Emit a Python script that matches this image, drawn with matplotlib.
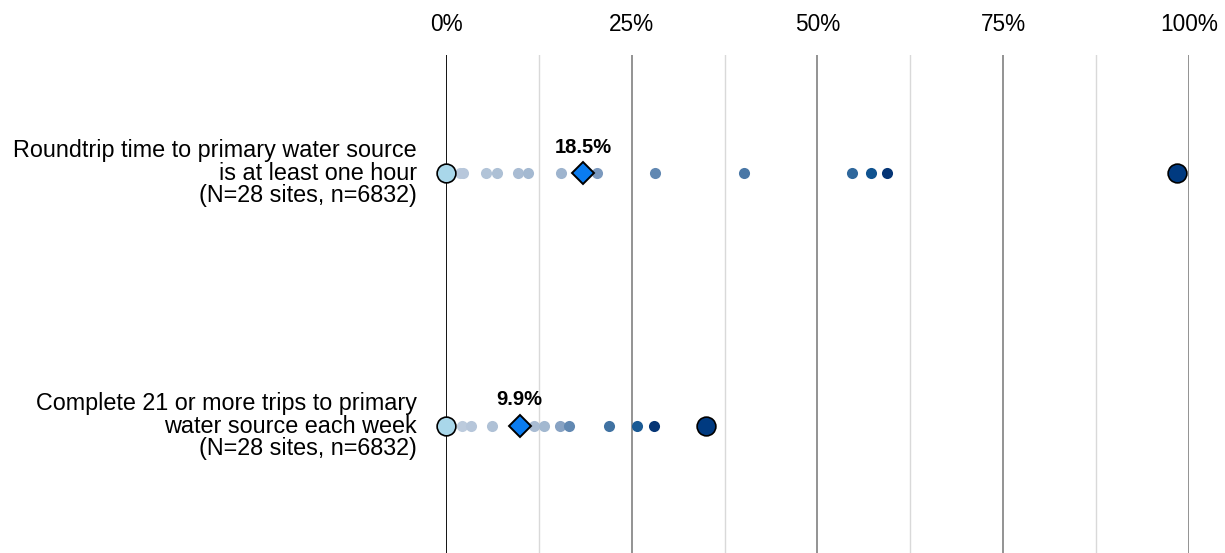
import numpy as np
import matplotlib
matplotlib.use("Agg")
import matplotlib.pyplot as plt
from matplotlib.colors import LinearSegmentedColormap

plt.rcParams['font.family'] = ['Liberation Sans', 'DejaVu Sans']

labels = ["Roundtrip time to primary water source\nis at least one hour\n(N=28 sites, n=6832)",
          "Complete 21 or more trips to primary\nwater source each week\n(N=28 sites, n=6832)"]

# site-level values (%) per indicator
sites_1 = [0, 1.9, 2.3, 5.4, 6.9, 9.7, 11.0, 15.5, 20.3, 28.1, 40.1, 54.6, 57.2, 59.4, 98.4]
sites_2 = [0, 2.2, 3.4, 6.2, 11.8, 13.2, 15.3, 16.6, 21.9, 25.7, 28.0, 35.0]
pooled = [18.5, 9.9]
site_values = [sites_1, sites_2]

xticks = [0, 25, 50, 75, 100]

cmap = LinearSegmentedColormap.from_list(
    "blues", [(0, "#bccbdd"), (0.5, "#9fb5ce"), (0.6, "#7494bb"), (0.75, "#4a78a6"),
              (0.85, "#2a649a"), (0.92, "#0f5290"), (1, "#053575")])

fig = plt.figure(figsize=(12.25, 5.53), dpi=100)
ax = fig.add_axes([446 / 1225, 0, (1189 - 446) / 1225, (553 - 55) / 553])

ax.set_xlim(0, 100)
ax.set_ylim(1.502, -0.467)

for g in [12.5, 37.5, 62.5, 87.5]:
    ax.axvline(g, color="#d9d9d9", lw=1, zorder=0)
for g in [25, 50, 75, 100]:
    ax.axvline(g, color="#808080", lw=1.2, zorder=0)
ax.axvline(0, color="black", lw=1.3, zorder=1)

for i, vals in enumerate(site_values):
    vals = sorted(vals)
    inner = vals[1:-1]
    n = len(inner)
    for r, v in enumerate(inner):
        c = cmap(r / (n - 1))
        ax.plot(v, i, "o", color=c, markersize=8, markeredgewidth=0, zorder=2, clip_on=False)
    ax.plot(vals[0], i, "o", color="#a9d7ea", markersize=13.5, markeredgecolor="black",
            markeredgewidth=1.2, zorder=4, clip_on=False)
    ax.plot(vals[-1], i, "o", color="#003a80", markersize=13.5, markeredgecolor="black",
            markeredgewidth=1.2, zorder=4, clip_on=False)
    ax.plot(pooled[i], i, "D", color="#0a7cf0", markersize=11, markeredgecolor="black",
            markeredgewidth=1.4, zorder=5, clip_on=False)
    ax.text(pooled[i], i - 0.103, f"{pooled[i]}%", ha="center", va="center",
            fontsize=14.5, fontweight="bold")
    ax.text(-3.9, i, labels[i], ha="right", va="center", fontsize=16.8, linespacing=0.99)

for t in xticks:
    ax.text(t, -0.586, f"{t}%", ha="center", va="center", fontsize=16.3, clip_on=False)

ax.set_yticks([])
ax.set_xticks([])
for s in ax.spines.values():
    s.set_visible(False)

fig.savefig("out.png", dpi=100)
